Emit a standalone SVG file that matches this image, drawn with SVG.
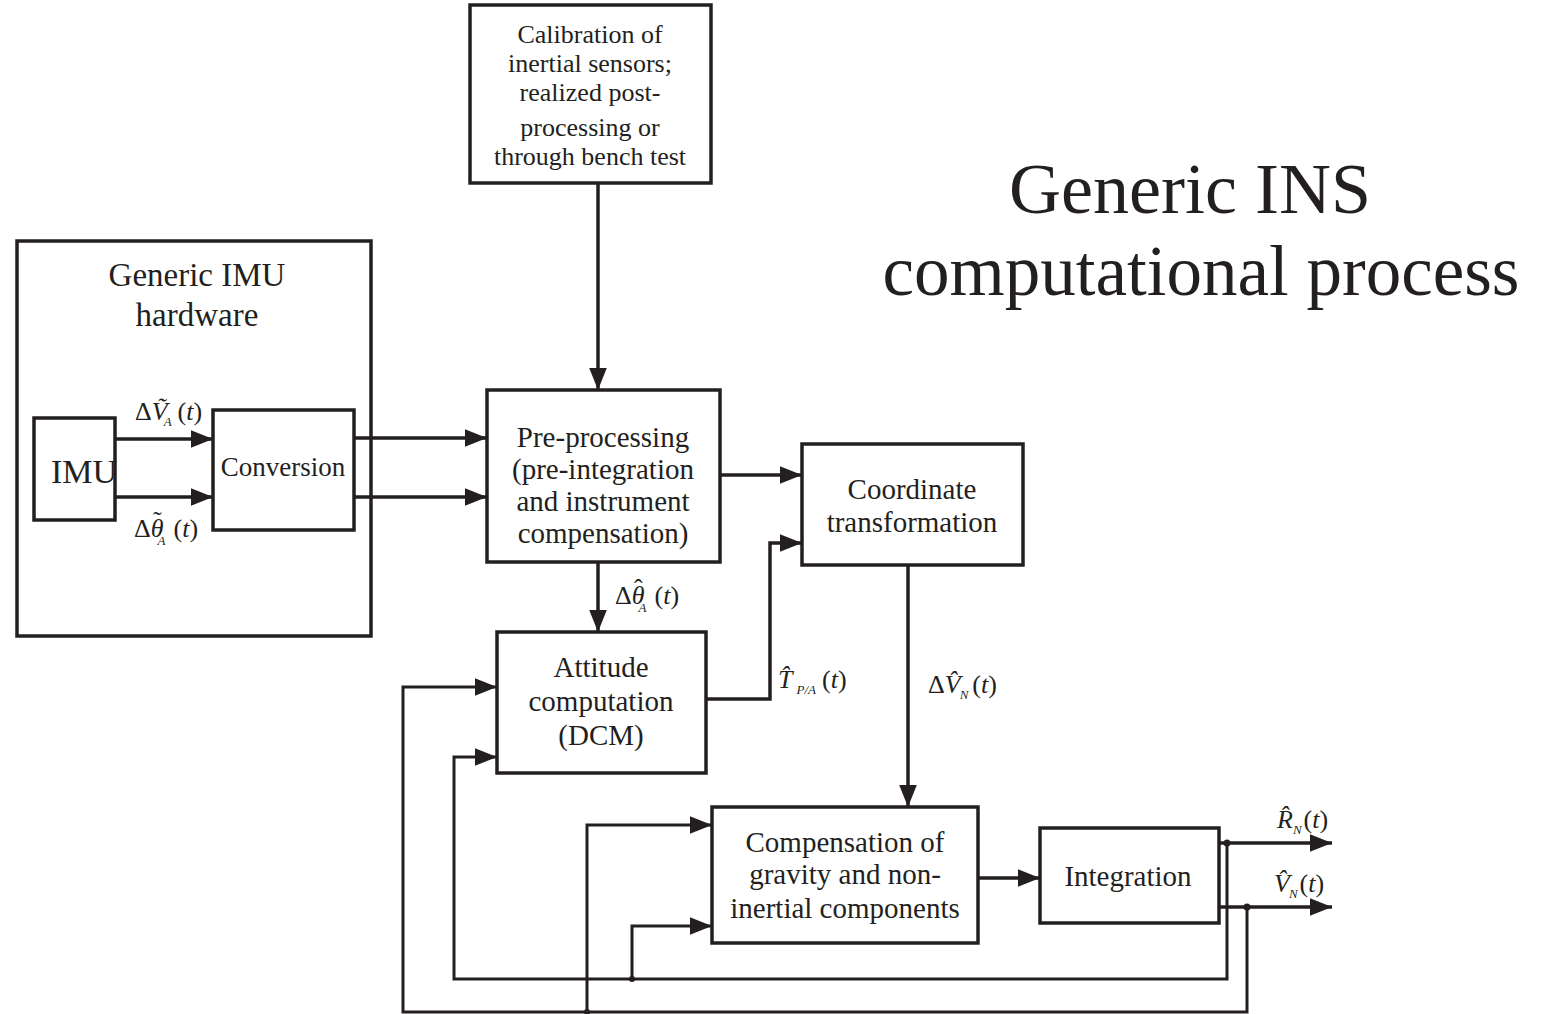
<svg xmlns="http://www.w3.org/2000/svg" width="1564" height="1014" viewBox="0 0 1564 1014">
<style>
.box{fill:#fff;stroke:#231f20;stroke-width:3.5}
.t{font-family:"Liberation Serif","Times New Roman",serif;fill:#231f20;text-anchor:middle}
.m{font-family:"Liberation Serif","Times New Roman",serif;fill:#231f20;font-style:italic;font-size:26px}
.n{font-style:normal}
.s{font-size:13px}
.ln{fill:none;stroke:#231f20;stroke-width:3.5}
.fb{fill:none;stroke:#231f20;stroke-width:3}
</style>
<defs>
<marker id="ah" viewBox="0 0 20 16" refX="20" refY="8" markerWidth="22" markerHeight="18" markerUnits="userSpaceOnUse" orient="auto">
<path d="M0,0 L20,8 L0,16z" fill="#231f20"/>
</marker>
</defs>
<rect width="1564" height="1014" fill="#fff"/>
<text class="t" x="1190" y="213" font-size="72">Generic INS</text>
<text class="t" x="1201" y="295" font-size="71">computational process</text>

<g id="imu-hardware">
<rect class="box" x="17" y="241" width="354" height="395"/>
<text class="t" font-size="33"><tspan x="197" y="286">Generic IMU</tspan><tspan x="197" y="326">hardware</tspan></text>
</g>

<g id="calibration">
<rect class="box" x="470" y="5" width="241" height="178"/>
<text class="t" font-size="26"><tspan x="590" y="43">Calibration of</tspan><tspan x="590" y="72">inertial sensors;</tspan><tspan x="590" y="101">realized post-</tspan><tspan x="590" y="136">processing or</tspan><tspan x="590" y="165">through bench test</tspan></text>
</g>

<g id="imu">
<rect class="box" x="34" y="418" width="81" height="102"/>
<text class="t" x="84" y="483" font-size="34">IMU</text>
</g>

<g id="conversion">
<rect class="box" x="213" y="410" width="141" height="120"/>
<text class="t" x="283" y="476" font-size="27">Conversion</text>
</g>

<g id="preprocessing">
<rect class="box" x="487" y="390" width="233" height="172"/>
<text class="t" font-size="29"><tspan x="603" y="447">Pre-processing</tspan><tspan x="603" y="479">(pre-integration</tspan><tspan x="603" y="511">and instrument</tspan><tspan x="603" y="543">compensation)</tspan></text>
</g>

<g id="coordinate">
<rect class="box" x="802" y="444" width="221" height="121"/>
<text class="t" font-size="29"><tspan x="912" y="499">Coordinate</tspan><tspan x="912" y="532">transformation</tspan></text>
</g>

<g id="attitude">
<rect class="box" x="497" y="632" width="209" height="141"/>
<text class="t" font-size="29"><tspan x="601" y="677">Attitude</tspan><tspan x="601" y="711">computation</tspan><tspan x="601" y="745">(DCM)</tspan></text>
</g>

<g id="compensation">
<rect class="box" x="712" y="807" width="266" height="136"/>
<text class="t" font-size="29"><tspan x="845" y="852">Compensation of</tspan><tspan x="845" y="884">gravity and non-</tspan><tspan x="845" y="918">inertial components</tspan></text>
</g>

<g id="integration">
<rect class="box" x="1040" y="828" width="179" height="95"/>
<text class="t" x="1128" y="886" font-size="29">Integration</text>
</g>

<g id="connectors">
<path class="ln" d="M598,183 V390" marker-end="url(#ah)"/>
<path class="ln" d="M115,439 H213" marker-end="url(#ah)"/>
<path class="ln" d="M115,497 H213" marker-end="url(#ah)"/>
<path class="ln" d="M354,438 H487" marker-end="url(#ah)"/>
<path class="ln" d="M354,497 H487" marker-end="url(#ah)"/>
<path class="ln" d="M720,475 H802" marker-end="url(#ah)"/>
<path class="ln" d="M598,562 V632" marker-end="url(#ah)"/>
<path class="ln" d="M706,699 H770 V543 H802" marker-end="url(#ah)"/>
<path class="ln" d="M908,565 V807" marker-end="url(#ah)"/>
<path class="ln" d="M978,878 H1040" marker-end="url(#ah)"/>
<path class="ln" d="M1219,843 H1332" marker-end="url(#ah)"/>
<path class="ln" d="M1219,907 H1332" marker-end="url(#ah)"/>
<path class="fb" d="M1227,843 V979 H454 V757 H497" marker-end="url(#ah)"/>
<path class="fb" d="M632,979 V926 H712" marker-end="url(#ah)"/>
<path class="fb" d="M1247,907 V1012 H403 V687 H497" marker-end="url(#ah)"/>
<path class="fb" d="M587,1012 V825 H712" marker-end="url(#ah)"/>
<circle cx="1227" cy="843" r="3.5" fill="#231f20"/>
<circle cx="1247" cy="907" r="3.5" fill="#231f20"/>
<circle cx="632" cy="979" r="3" fill="#231f20"/>
<circle cx="587" cy="1012" r="3" fill="#231f20"/>
</g>

<g id="labels">
<text class="m" x="135" y="420"><tspan class="n">Δ</tspan>Ṽ<tspan class="s" dy="6" dx="-4">A</tspan><tspan class="n" dy="-6" dx="6">(</tspan>t<tspan class="n">)</tspan></text>
<text class="m"><tspan class="n" x="134" y="537">Δ</tspan>θ<tspan class="s" dy="8" dx="-6">A</tspan><tspan class="n" dy="-8" dx="8">(</tspan>t<tspan class="n">)</tspan><tspan class="n" x="153" y="529">˜</tspan></text>
<text class="m"><tspan class="n" x="615" y="604">Δ</tspan>θ<tspan class="s" dy="8" dx="-6">A</tspan><tspan class="n" dy="-8" dx="8">(</tspan>t<tspan class="n">)</tspan><tspan class="n" x="634" y="597">ˆ</tspan></text>
<text class="m" x="778" y="688">T̂<tspan class="s" dy="6" dx="4">P/A</tspan><tspan class="n" dy="-6" dx="6">(</tspan>t<tspan class="n">)</tspan></text>
<text class="m" x="928" y="693"><tspan class="n">Δ</tspan>V̂<tspan class="s" dy="6" dx="-1">N</tspan><tspan class="n" dy="-6" dx="4">(</tspan>t<tspan class="n">)</tspan></text>
<text class="m" x="1277" y="828">R̂<tspan class="s" dy="6">N</tspan><tspan class="n" dy="-6" dx="2">(</tspan>t<tspan class="n">)</tspan></text>
<text class="m" x="1274" y="892">V̂<tspan class="s" dy="6" dx="-1">N</tspan><tspan class="n" dy="-6" dx="2">(</tspan>t<tspan class="n">)</tspan></text>
</g>
</svg>
